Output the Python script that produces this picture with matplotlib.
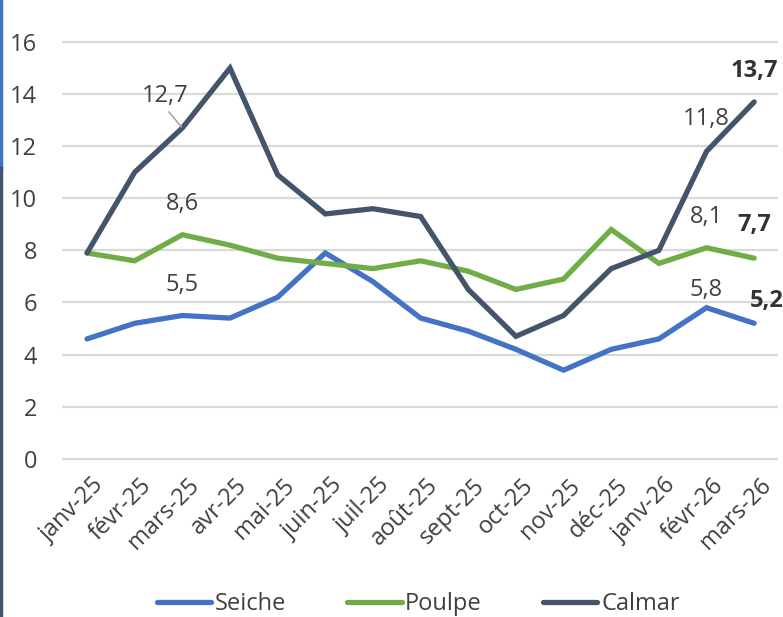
import matplotlib
matplotlib.use('Agg')
import matplotlib.pyplot as plt
from matplotlib.lines import Line2D
from matplotlib.transforms import ScaledTranslation

plt.rcParams['font.family'] = ['Open Sans', 'DejaVu Sans']

# mois (axe des x)
mois = ['janv-25', 'févr-25', 'mars-25', 'avr-25', 'mai-25', 'juin-25', 'juil-25',
        'août-25', 'sept-25', 'oct-25', 'nov-25', 'déc-25', 'janv-26', 'févr-26', 'mars-26']

# séries
seiche = [4.6, 5.2, 5.5, 5.4, 6.2, 7.9, 6.8, 5.4, 4.9, 4.2, 3.4, 4.2, 4.6, 5.8, 5.2]
poulpe = [7.9, 7.6, 8.6, 8.2, 7.7, 7.5, 7.3, 7.6, 7.2, 6.5, 6.9, 8.8, 7.5, 8.1, 7.7]
calmar = [7.9, 11.0, 12.7, 15.0, 10.9, 9.4, 9.6, 9.3, 6.5, 4.7, 5.5, 7.3, 8.0, 11.8, 13.7]

y_ticks = [0, 2, 4, 6, 8, 10, 12, 14, 16]

BLEU = '#4472C4'
VERT = '#70AD47'
ARDOISE = '#44546A'
TEXTE = '#404040'
FS = 17

fig = plt.figure(figsize=(7.83, 6.17), dpi=100)
ax = fig.add_axes([0.0792, 0.2523, 0.9144, 0.6838])

x = list(range(len(mois)))
ax.plot(x, seiche, color=BLEU, lw=3.8, label='Seiche', solid_capstyle='round', solid_joinstyle='miter')
ax.plot(x, poulpe, color=VERT, lw=3.8, label='Poulpe', solid_capstyle='round', solid_joinstyle='miter')
ax.plot(x, calmar, color=ARDOISE, lw=3.8, label='Calmar', solid_capstyle='round', solid_joinstyle='miter')

ax.set_xlim(-0.525, 14.5)
ax.set_ylim(-0.1, 16.1)
ax.set_yticks(y_ticks)
ax.set_yticklabels([str(v) for v in y_ticks])
ax.set_xticks(x)
ax.set_xticklabels(mois)
ax.tick_params(axis='both', length=0, labelsize=FS, labelcolor=TEXTE)
ax.tick_params(axis='y', pad=18)
ax.tick_params(axis='x', pad=9)
for lab in ax.get_xticklabels():
    lab.set_rotation(45)
    lab.set_ha('right')
    lab.set_rotation_mode('anchor')
    lab.set_transform(lab.get_transform() + ScaledTranslation(0.05, 0, fig.dpi_scale_trans))

ax.grid(axis='y', color='#D9D9D9', lw=1.6)
ax.set_axisbelow(True)
for s in ax.spines.values():
    s.set_visible(False)


def fmt(v):
    return ('%.1f' % v).replace('.', ',')


# étiquettes de données : (série, index, décalage x, décalage y en points, gras)
etiquettes = [
    (poulpe, 2, 0, 22, False),
    (seiche, 2, 0, 22, False),
    (calmar, 13, 0, 23, False),
    (poulpe, 13, 0, 22, False),
    (seiche, 13, 0, 13, False),
    (calmar, 14, 0, 22, True),
    (poulpe, 14, 0, 24, True),
    (seiche, 14, 9, 16, True),
]
for serie, i, dx, dy, gras in etiquettes:
    ax.annotate(fmt(serie[i]), (i, serie[i]), xytext=(dx, dy), textcoords='offset points',
                ha='center', va='center', fontsize=FS, color='#333333' if gras else TEXTE,
                fontweight='bold' if gras else 'normal')

# 12,7 avec ligne de rappel
ax.annotate(fmt(calmar[2]), (2, calmar[2]), xytext=(-12, 23), textcoords='offset points',
            ha='center', va='center', fontsize=FS, color=TEXTE,
            arrowprops=dict(arrowstyle='-', color='#A6A6A6', lw=1.2,
                            relpos=(0.5, 0), shrinkA=1, shrinkB=1))

ax.legend(loc='center', bbox_to_anchor=(0.534, 0.021), bbox_transform=fig.transFigure,
          ncol=3, frameon=False, fontsize=FS, labelcolor=TEXTE,
          handlelength=2.3, handletextpad=0.15, columnspacing=2.6)

# liseré à gauche
fig.add_artist(Line2D([0.001, 0.001], [1, 1 - 168 / 617], color=BLEU, lw=2.5, transform=fig.transFigure))
fig.add_artist(Line2D([0.001, 0.001], [0, 1 - 168 / 617], color=ARDOISE, lw=2.5, transform=fig.transFigure))

fig.savefig('out.png', dpi=100)
